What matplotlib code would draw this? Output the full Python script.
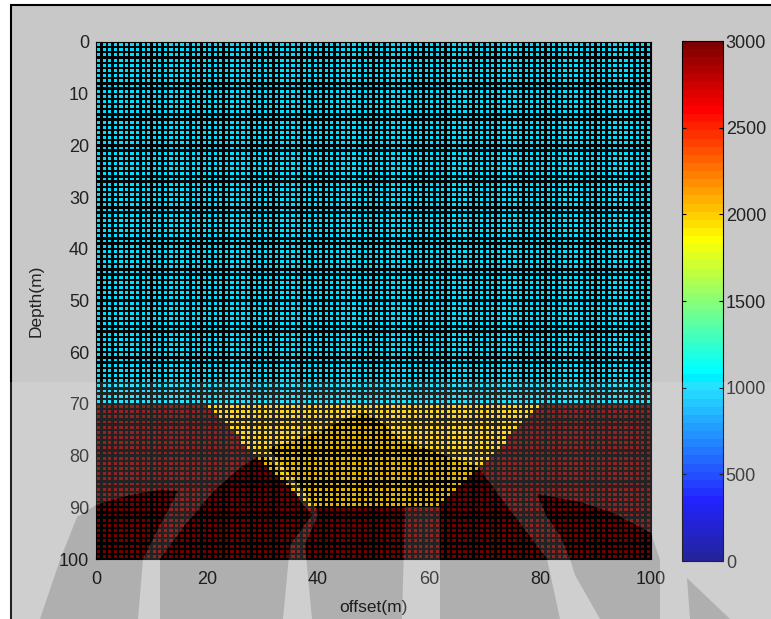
import numpy as np
import matplotlib
matplotlib.use("Agg")
import matplotlib.pyplot as plt
from matplotlib.path import Path
from matplotlib.patches import Rectangle, PathPatch, Polygon
from matplotlib.colors import ListedColormap

plt.rcParams["font.family"] = ["Liberation Sans", "DejaVu Sans"]

# ---- data (velocity model, m/s) ----
offset_edges = np.arange(0, 101, 1)      # offset (m)
depth_edges = np.arange(0, 101, 1)       # depth (m)
v_top = 1000                             # upper layer velocity
v_bottom = 3000                          # lower layer velocity
v_wedge = 2000                           # trapezoid body velocity
interface_depth = 70
wedge_x = [19.5, 80.5, 62.0, 38.0]       # trapezoid vertices: offset
wedge_z = [70.0, 70.0, 90.0, 90.0]       # trapezoid vertices: depth
xticks = [0, 20, 40, 60, 80, 100]
yticks = [0, 10, 20, 30, 40, 50, 60, 70, 80, 90, 100]
cticks = [0, 500, 1000, 1500, 2000, 2500, 3000]

xc = 0.5 * (offset_edges[:-1] + offset_edges[1:])
zc = 0.5 * (depth_edges[:-1] + depth_edges[1:])
XX, ZZ = np.meshgrid(xc, zc)
V = np.where(ZZ < interface_depth, v_top, v_bottom).astype(float)
poly = Path(np.column_stack([wedge_x, wedge_z]))
inside = poly.contains_points(np.column_stack([XX.ravel(), ZZ.ravel()])).reshape(XX.shape)
V[inside] = v_wedge


def matlab_jet(m=64):
    n = int(np.ceil(m / 4))
    u = np.concatenate([np.arange(1, n + 1) / n, np.ones(n - 1), np.arange(n, 0, -1) / n])
    g = int(np.ceil(n / 2)) - (1 if m % 4 == 1 else 0) + np.arange(1, len(u) + 1)
    r = g + n
    b = g - n
    rgb = np.zeros((m, 3))
    for ch, idx in ((0, r), (1, g), (2, b)):
        ok = (idx >= 1) & (idx <= m)
        rgb[idx[ok] - 1, ch] = u[ok]
    return ListedColormap(rgb)


W, H = 771, 619
fig = plt.figure(figsize=(W / 100, H / 100), dpi=100, facecolor="white")

fig.add_artist(Rectangle((11 / W, -0.2), 1.3, 1.2 - 5 / H, transform=fig.transFigure,
                         facecolor="#c8c8c8", edgecolor="black", linewidth=1.5, zorder=-10))


def ax_rect(l, t, r, b):
    return [l / W, 1 - b / H, (r - l) / W, (b - t) / H]


TXT = "#222222"
ax = fig.add_axes(ax_rect(96, 42, 651, 559))
cmap = matlab_jet(64)
mesh = ax.pcolormesh(offset_edges, depth_edges, V, cmap=cmap, vmin=0, vmax=3000,
                     edgecolors="black", linewidth=0.95, snap=False)
ax.set_xlim(0, 100)
ax.set_ylim(100, 0)
ax.set_xticks(xticks)
ax.set_yticks(yticks)
ax.tick_params(direction="in", length=3, labelsize=13, colors="black", labelcolor=TXT)
ax.tick_params(axis="x", pad=9)
ax.tick_params(axis="y", pad=5)
ax.set_xlabel("offset(m)", fontsize=12.5, color=TXT, labelpad=8)
ax.set_ylabel("Depth(m)", fontsize=12.5, color=TXT, labelpad=11)
for s in ax.spines.values():
    s.set_color("black")
    s.set_linewidth(0.8)

cax = fig.add_axes(ax_rect(682, 41, 723, 561))
cb = fig.colorbar(mesh, cax=cax)
cb.set_ticks(cticks)
cax.tick_params(direction="in", length=3, left=True, right=True, labelsize=13,
                labelcolor=TXT, pad=2)
cb.outline.set_edgecolor("black")
cb.outline.set_linewidth(0.8)

# ---- scanned-page watermark (approximate), pixel coords (x right, y down) ----
dark_shapes = [
    [(96, 505), (130, 495), (160, 490), (178, 491), (160, 525), (143, 559), (138, 619),
     (40, 619), (60, 560), (77, 517)],
    [(160, 619), (160, 559), (185, 525), (215, 490), (240, 468), (257, 457), (268, 457),
     (290, 485), (303, 505), (312, 515), (290, 545), (283, 619)],
    [(268, 448), (297, 440), (323, 430), (343, 420), (365, 413), (385, 425), (400, 440),
     (420, 447), (443, 455), (477, 466), (510, 510), (547, 559), (560, 619), (440, 619),
     (440, 507), (405, 507), (402, 619), (312, 619), (305, 545), (318, 515), (315, 505),
     (290, 475)],
    [(537, 494), (580, 502), (613, 513), (651, 533), (660, 560), (660, 619), (600, 619),
     (575, 575), (570, 559), (560, 535), (547, 517)],
    [(687, 578), (730, 619), (690, 619)],
]


def to_fig(pts):
    a = np.asarray(pts, float)
    return np.column_stack([a[:, 0] / W, 1 - a[:, 1] / H])


def signed_area(p):
    x, y = p[:, 0], p[:, 1]
    return 0.5 * np.sum(x * np.roll(y, -1) - np.roll(x, -1) * y)


band_top = 382
outer = to_fig([(0, band_top), (W, band_top), (W, H + 2), (0, H + 2)])
verts, codes = [], []
for ring, want_pos in [(outer, True)] + [(to_fig(s), False) for s in dark_shapes]:
    if (signed_area(ring) > 0) != want_pos:
        ring = ring[::-1]
    verts += list(ring) + [ring[0]]
    codes += [Path.MOVETO] + [Path.LINETO] * (len(ring) - 1) + [Path.CLOSEPOLY]
light = PathPatch(Path(np.array(verts), codes), transform=fig.transFigure,
                  facecolor="white", edgecolor="none", alpha=0.14, zorder=5)
fig.add_artist(light)
for s in dark_shapes:
    fig.add_artist(Polygon(to_fig(s), closed=True, transform=fig.transFigure,
                           facecolor="black", edgecolor="none", alpha=0.12, zorder=5))

fig.savefig("out.png", dpi=100, facecolor=fig.get_facecolor())
